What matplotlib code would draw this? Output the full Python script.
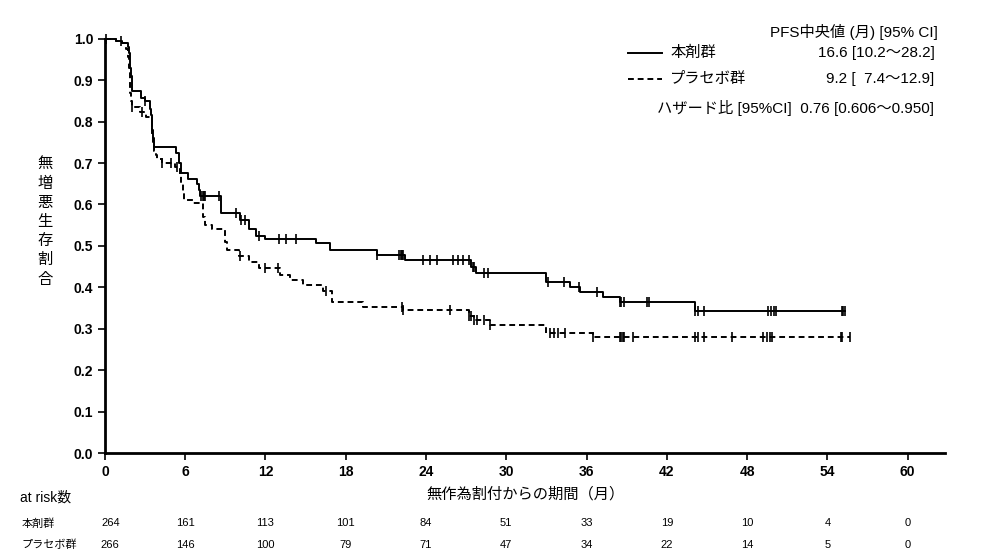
import numpy as np
import matplotlib
matplotlib.use("Agg")
import matplotlib.pyplot as plt
from matplotlib.lines import Line2D
import matplotlib.transforms as mtransforms

plt.rcParams['font.family'] = ['Liberation Sans', 'Noto Sans CJK JP', 'DejaVu Sans']

# Kaplan-Meier steps (time in months, survival)
trt_t = [0, 0.8, 1.3, 1.7, 1.8, 1.85, 1.9, 1.95, 2.0, 2.05, 2.7, 3.0, 3.35, 3.45, 3.5, 3.55,
         3.6, 3.65, 3.7, 5.3, 5.5, 5.7, 6.2, 6.9, 7.0, 7.1, 8.7, 10.1, 10.8, 11.3, 12.0, 15.8,
         16.8, 20.3, 22.4, 27.4, 27.7, 33.0, 34.8, 35.5, 37.2, 38.5, 44.1, 55.3]
trt_s = [1.0, 0.995, 0.99, 0.98, 0.965, 0.95, 0.93, 0.91, 0.89, 0.875, 0.857, 0.85, 0.83, 0.815,
         0.80, 0.78, 0.76, 0.75, 0.738, 0.725, 0.70, 0.675, 0.662, 0.65, 0.635, 0.62, 0.58,
         0.563, 0.54, 0.525, 0.517, 0.508, 0.49, 0.478, 0.466, 0.45, 0.435, 0.413, 0.40, 0.389,
         0.377, 0.365, 0.343, 0.343]
pbo_t = [0, 0.8, 1.3, 1.6, 1.7, 1.8, 1.85, 1.9, 1.95, 2.0, 2.6, 3.1, 3.5, 3.6, 3.7, 3.8, 3.9,
         4.3, 5.2, 5.6, 5.7, 5.8, 5.9, 6.6, 7.3, 7.5, 8.0, 9.0, 9.1, 10.0, 10.8, 11.5, 13.1,
         13.8, 14.8, 16.3, 17.0, 19.3, 22.3, 27.2, 27.6, 28.8, 33.0, 36.5, 55.7]
pbo_s = [1.0, 0.995, 0.99, 0.975, 0.955, 0.93, 0.90, 0.87, 0.85, 0.836, 0.824, 0.81, 0.77,
         0.75, 0.73, 0.72, 0.71, 0.70, 0.69, 0.67, 0.65, 0.63, 0.61, 0.603, 0.57, 0.551, 0.54,
         0.51, 0.49, 0.476, 0.46, 0.447, 0.43, 0.418, 0.406, 0.39, 0.365, 0.353, 0.345, 0.33,
         0.321, 0.309, 0.29, 0.28, 0.28]

# censoring times
trt_cens = [0.1, 1.2, 3.0, 3.5, 7.2, 7.3, 7.4, 7.5, 8.5, 9.8, 10.2, 10.5, 11.5, 13.0, 13.5, 14.3,
            20.3, 22.0, 22.1, 22.2, 22.3, 23.8, 24.3, 24.8, 26.0, 26.4, 26.8, 27.2, 27.5, 27.6,
            28.3, 28.6, 33.1, 34.3, 35.4, 36.8, 38.5, 38.6, 38.8, 40.5, 40.7, 44.1, 44.3, 44.8,
            49.6, 49.8, 50.0, 50.2, 55.1, 55.2, 55.3]
pbo_cens = [2.0, 2.8, 4.3, 4.9, 5.4, 10.1, 12.0, 12.9, 16.5, 22.2, 22.3, 25.8, 27.2, 27.4,
            27.6, 27.8, 28.3, 28.8, 33.3, 33.6, 33.9, 34.4, 36.5, 38.5, 38.6, 38.7, 38.8, 39.5,
            44.1, 44.3, 44.8, 46.9, 49.2, 49.5, 49.7, 49.9, 55.0, 55.1, 55.7]

xticks = [0, 6, 12, 18, 24, 30, 36, 42, 48, 54, 60]
risk_trt = [264, 161, 113, 101, 84, 51, 33, 19, 10, 4, 0]
risk_pbo = [266, 146, 100, 79, 71, 47, 34, 22, 14, 5, 0]


def surv_at(times, surv, t):
    idx = np.searchsorted(times, t, side='right') - 1
    return np.array(surv)[idx]


fig = plt.figure(figsize=(9.93, 5.59), dpi=100)
ax = fig.add_axes([0.1057, 0.1896, 0.846, 0.741])

ax.step(trt_t, trt_s, where='post', color='black', lw=1.4)
ax.step(pbo_t, pbo_s, where='post', color='black', lw=1.4, linestyle=(0, (3, 2)))
ax.plot(trt_cens, surv_at(trt_t, trt_s, trt_cens), linestyle='none', marker='|',
        color='black', ms=7, mew=1.2)
ax.plot(pbo_cens, surv_at(pbo_t, pbo_s, pbo_cens), linestyle='none', marker='|',
        color='black', ms=7, mew=1.2)

ax.set_xlim(0, 62.8)
ax.set_ylim(0, 1.0)
ax.set_xticks(xticks)
ax.set_yticks(np.arange(0, 1.01, 0.1))
ax.set_yticklabels([f"{v:.1f}" for v in np.arange(0, 1.01, 0.1)])
for lab in ax.get_xticklabels() + ax.get_yticklabels():
    lab.set_fontweight('bold')
    lab.set_fontsize(10)
ax.tick_params(direction='out', length=5, width=1.2)
ax.spines['top'].set_visible(False)
ax.spines['right'].set_visible(False)
ax.spines['left'].set_linewidth(2)
ax.spines['bottom'].set_linewidth(2)
for ln in ax.lines:
    ln.set_clip_on(False)

ax.set_xlabel("無作為割付からの期間（月）", fontsize=11, labelpad=6)
fig.text(0.045, 0.603, "\n".join("無増悪生存割合"), ha='center', va='center',
         fontsize=11, linespacing=1.47)

# legend block
fig.text(0.944, 0.943, "PFS中央値 (月) [95% CI]", ha='right', va='center', fontsize=11)
fig.add_artist(Line2D([0.632, 0.667], [0.905, 0.905], color='black', lw=1.4))
fig.add_artist(Line2D([0.632, 0.667], [0.859, 0.859], color='black', lw=1.4,
                      linestyle=(0, (3, 2))))
fig.text(0.675, 0.905, "本剤群", ha='left', va='center', fontsize=11)
fig.text(0.675, 0.859, "プラセボ群", ha='left', va='center', fontsize=11)
fig.text(0.941, 0.905, "16.6 [10.2～28.2]", ha='right', va='center', fontsize=11)
fig.text(0.941, 0.859, "9.2 [  7.4～12.9]", ha='right', va='center', fontsize=11)
fig.text(0.941, 0.807, "ハザード比 [95%CI]  0.76 [0.606～0.950]", ha='right', va='center',
         fontsize=11)

# at-risk table
trans = mtransforms.blended_transform_factory(ax.transData, fig.transFigure)
fig.text(0.02, 0.109, "at risk数", ha='left', va='center', fontsize=10)
fig.text(0.022, 0.064, "本剤群", ha='left', va='center', fontsize=8)
fig.text(0.022, 0.025, "プラセボ群", ha='left', va='center', fontsize=8)
for t, a, b in zip(xticks, risk_trt, risk_pbo):
    ax.text(t + (0.4 if t == 0 else 0), 0.064, str(a), transform=trans, ha='center',
            va='center', fontsize=8)
    ax.text(t + (0.4 if t == 0 else 0), 0.025, str(b), transform=trans, ha='center',
            va='center', fontsize=8)

fig.savefig("out.png", dpi=100)
